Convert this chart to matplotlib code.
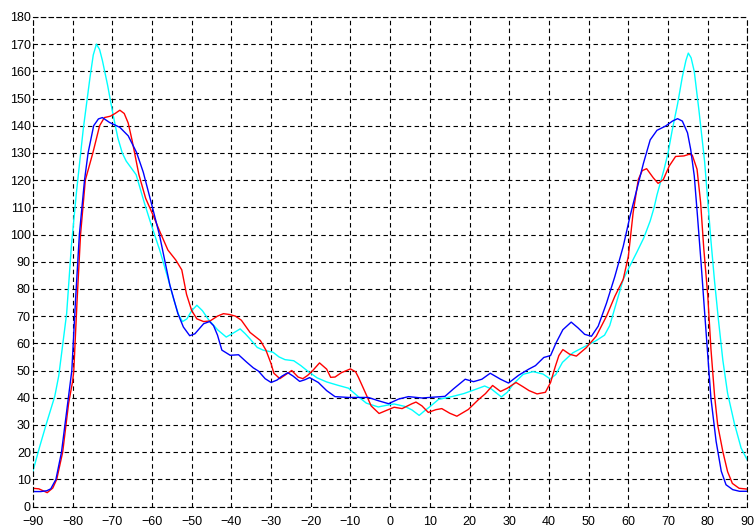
import matplotlib
matplotlib.use("Agg")
from matplotlib import pyplot as plt

# cyan series
cyan_x = [-90, -88.3, -86.6, -84.5, -83.5, -82.8, -81.5, -80.3, -79, -77.3, -75.6, -74.8, -74,
          -73.2, -72.5, -71.2, -69.8, -68.6, -67.5, -66.5, -65.5, -64, -63, -62, -60.5, -58,
          -56, -54.5, -53.3, -52.3, -51.2, -50, -48.7, -47.3, -45.8, -43.5, -41.3, -39.5,
          -37.8, -36.5, -35.3, -33.5, -32, -29.5, -28, -26.5, -24.3, -22.5, -20.8, -18.4,
          -16, -13, -10.5, -8.2, -6, -3, -1, 1, 3.7, 5.5, 7.3, 8.5, 10, 12.2, 15.5, 18.5, 21,
          23.8, 25.5, 28, 29.5, 31, 33.5, 36, 38.5, 40.3, 41.7, 43.4, 46, 48.6, 51.9, 54,
          55.3, 57, 58.7, 60.4, 62.1, 63.9, 65.5, 66.5, 67.2, 69, 70, 71, 72.4, 73.6, 74.5,
          75.1, 75.8, 76.6, 77.8, 79.2, 80, 80.8, 81.7, 82.7, 83.8, 85, 86.7, 88.4, 90]
cyan_y = [13, 22, 30.5, 40.5, 48, 56, 71, 96, 116, 139, 158, 166, 170,
          168, 164, 155, 144, 135.5, 130, 127, 125, 122, 117, 112, 105, 94,
          84, 76, 70.5, 68, 69, 72, 74, 72, 68.8, 65, 62.3, 63.8,
          65.3, 63.5, 61.6, 58.5, 57.5, 56.7, 55, 54, 53.6, 51.8, 49.8, 47.3,
          45.8, 44.5, 43.5, 40.6, 38, 36.6, 37.2, 37.7, 36.8, 35.5, 33.5, 35, 36.7, 39.4, 40.4, 41.5, 42.8,
          44.3, 43.2, 40.3, 42, 45, 48.6, 49.6, 48.7, 46.9, 48.5, 53, 56.5, 58.5, 61, 63,
          66.5, 75, 83.5, 88.5, 93.4, 98.8, 105, 110, 114.5, 124, 130, 138, 148, 158, 164,
          166.7, 165, 160, 145.4, 127, 112.4, 97.8, 83, 68.5, 53.8, 41.6, 30.6, 21.5, 17]

# red series
red_x = [-90, -88.5, -86.4, -85, -84, -82.5, -81, -80, -79.7, -78.9, -78, -76.8, -74.9, -73.2,
         -72, -70.5, -69.3, -68.1, -67, -66, -65, -63.3, -61.6, -60, -58, -56, -54, -52.5,
         -51.3, -50, -48.7, -47, -45.4, -43.5, -42, -40.5, -39, -37.5, -35.3, -32.7, -31.3,
         -30, -29.3, -27.8, -26, -24.8, -23.2, -22, -20.8, -19.5, -17.8, -16, -15, -13.9,
         -12.3, -10, -8.7, -8, -6.3, -4.8, -2.8, -1, 1, 3, 5.5, 6.5, 8, 9.6, 11.5, 13, 15,
         16.8, 19.7, 22.3, 24, 25.8, 27.8, 29.5, 31.7, 33.5, 35, 37, 39.1, 40.4, 41.6, 42.5,
         43.5, 45.2, 46.9, 49.4, 51.9, 54.5, 56.6, 58.7, 60, 61.2, 62.5, 63.5, 64.6, 66.3,
         67.5, 68.8, 70.3, 71.9, 74, 75.3, 76.1, 77.3, 78.2, 79, 80, 80.8, 81.7, 82.5, 83.8,
         85, 86.2, 87.9, 90]
red_y = [6.7, 6.5, 5.1, 6.8, 10, 20, 38, 46, 50, 75, 100, 120, 130, 140,
         143, 143.5, 144.5, 145.7, 144.5, 141, 134.5, 122, 113.3, 108, 101, 94.3, 90.6, 87,
         78, 72, 69, 68, 68.2, 70, 70.9, 70.6, 70, 68.5, 64, 61, 57.5,
         52.5, 49, 47, 48.8, 50, 47.6, 47, 48.2, 50, 52.8, 50.5, 47.5, 47.6,
         49.2, 50.6, 49.5, 47.5, 42, 37, 34.2, 35.3, 36.5, 36, 37.8, 38.4, 37, 34.6, 35.6, 36, 34.3,
         33.2, 35.7, 39.4, 41.5, 44.5, 42.3, 43.5, 45.6, 44, 42.6, 41.4, 42, 45.6, 51.5, 55.5,
         57.7, 56, 55.3, 58.4, 62.6, 70, 77.3, 83.5, 92, 108, 120.2, 123.5, 124.2, 120.8,
         118.8, 120.2, 125.2, 128.7, 128.9, 129.5, 129.2, 124, 111.8, 94.8, 77.6, 58, 41, 30, 20.2,
         12.8, 8.5, 6.7, 6.4]

# blue series
blue_x = [-90, -88, -86.5, -85.5, -84.2, -82.8, -81.5, -80.2, -79.3, -78.3, -77, -76.1, -74.7,
          -73.5, -72.5, -70.7, -68.1, -66, -63.9, -62.2, -60, -58.1, -55.5, -53.5, -52.1,
          -50.5, -49.2, -47, -45.5, -44.5, -43.5, -42.4, -40.3, -38.2, -36.1, -34.5, -33.2,
          -31.5, -30, -28.5, -27.4, -25.8, -24.5, -22.8, -21.5, -20.3, -18.1, -16, -13.9,
          -10.5, -5.5, -3, -0.4, 2.1, 4.6, 8, 13.8, 15.9, 18.9, 21, 23.1, 25.2, 27.8, 29.8,
          32.4, 34.9, 36.6, 38.7, 40.4, 41.8, 43.5, 45.6, 47.3, 49, 50.7, 52.4, 54.5, 56.6,
          58.7, 60.4, 62.1, 63.8, 65.5, 67.2, 69.4, 71.1, 72.4, 73.6, 74.9, 75.7, 76.6, 77.4,
          78.3, 79.2, 80, 80.8, 82.1, 83.4, 84.6, 86.3, 88, 90]
blue_y = [5.5, 5.5, 5.8, 6.5, 10, 20, 35, 50, 75, 100, 120, 130, 140,
          142.5, 143, 141.2, 139.4, 136.3, 130.2, 122.9, 110.6, 99.7, 81.4, 71, 66,
          62.8, 63.5, 67.2, 68, 66.5, 63, 57.5, 55.6, 55.8, 53, 51, 49.8,
          47, 45.6, 46.5, 47.8, 49.2, 48, 46, 46.6, 47.4, 45.6, 42.6, 40.4,
          40.1, 40.1, 38.9, 37.8, 39.5, 40.4, 39.9, 40.5, 43.2, 46.8, 45.9, 46.8, 49, 46.8, 45.4,
          48.3, 50.5, 51.8, 54.8, 55.5, 60.2, 65, 67.8, 65.7, 63.3, 62.6, 66.3, 74.8, 84.6,
          95.6, 106.6, 116.4, 126.2, 134.8, 138.3, 139.9, 141.7, 142.6, 141.7, 137.4, 131.3, 121.6, 107,
          89.9, 71.6, 55.7, 39.8, 24, 13, 8, 6.2, 5.6, 5.6]

x_ticks = list(range(-90, 91, 10))
y_ticks = list(range(0, 181, 10))

plt.rcParams['font.family'] = ['Liberation Sans', 'DejaVu Sans']

fig = plt.figure(figsize=(7.55, 5.29), dpi=100)
ax = fig.add_axes([0.0436, 0.0425, 0.9464, 0.9255])

ax.plot(cyan_x, cyan_y, color="#00FFFF", lw=1.0)
ax.plot(red_x, red_y, color="#FF0000", lw=1.0)
ax.plot(blue_x, blue_y, color="#0000FF", lw=1.0)

ax.set_xlim(-90, 90)
ax.set_ylim(0, 180)
ax.set_xticks(x_ticks)
ax.set_yticks(y_ticks)
ax.tick_params(axis='both', length=0, labelsize=9, colors='black')
ax.tick_params(axis='x', pad=7)
ax.tick_params(axis='y', pad=1.5)

ax.grid(True, color='black', linestyle=(0, (4, 3)), linewidth=0.8)
for s in ax.spines.values():
    s.set_linestyle((0, (4, 3)))
    s.set_linewidth(0.8)
    s.set_color('black')

fig.savefig("out.png", dpi=100)
